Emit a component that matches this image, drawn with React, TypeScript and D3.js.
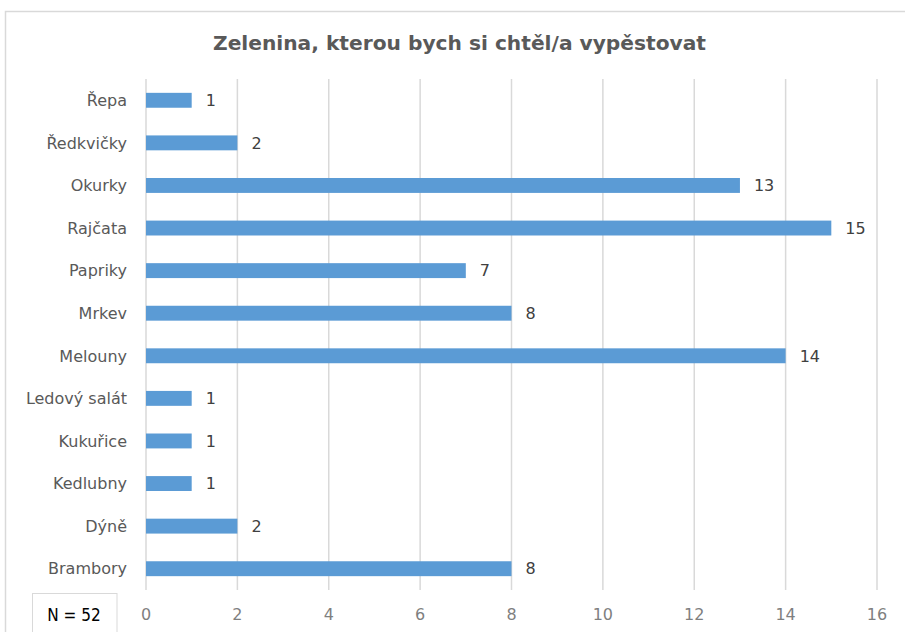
import React, { useEffect, useRef } from 'react';
import * as d3 from 'd3';

const categories = ['Řepa', 'Ředkvičky', 'Okurky', 'Rajčata', 'Papriky', 'Mrkev', 'Melouny', 'Ledový salát', 'Kukuřice', 'Kedlubny', 'Dýně', 'Brambory'];
const counts = [1, 2, 13, 15, 7, 8, 14, 1, 1, 1, 2, 8];
const xTicks = [0, 2, 4, 6, 8, 10, 12, 14, 16];
const title = 'Zelenina, kterou bych si chtěl/a vypěstovat';
const note = 'N = 52';

const W = 905;
const H = 632;
const FONT = '"DejaVu Sans", "Open Sans", sans-serif';

const App = () => {
  const svgRef = useRef<SVGSVGElement>(null);

  useEffect(() => {
    const svg = d3.select(svgRef.current);
    svg.selectAll('*').remove();

    const plot = { left: 146, right: 877, top: 79, bottom: 590 };

    const x = d3.scaleLinear().domain([0, 16]).range([plot.left, plot.right]);
    const y = d3.scaleBand<string>()
      .domain(categories)
      .range([plot.top, plot.bottom])
      .paddingInner(0.65)
      .paddingOuter(0.325);

    // chart frame
    svg.append('rect')
      .attr('x', 5.5).attr('y', 11.5)
      .attr('width', W + 10).attr('height', H + 10)
      .attr('fill', '#fff')
      .attr('stroke', '#d9d9d9')
      .attr('stroke-width', 1.5);

    // title
    svg.append('text')
      .attr('x', 459.5).attr('y', 50)
      .attr('text-anchor', 'middle')
      .attr('font-family', FONT)
      .attr('font-size', 20)
      .attr('font-weight', 'bold')
      .attr('fill', '#595959')
      .attr('textLength', 493)
      .attr('lengthAdjust', 'spacingAndGlyphs')
      .text(title);

    // gridlines
    svg.append('g')
      .selectAll('line')
      .data(xTicks)
      .join('line')
      .attr('x1', d => x(d)).attr('x2', d => x(d))
      .attr('y1', plot.top).attr('y2', plot.bottom)
      .attr('stroke', '#d9d9d9')
      .attr('stroke-width', 1.5);

    // x tick labels
    svg.append('g')
      .selectAll('text')
      .data(xTicks)
      .join('text')
      .attr('x', d => x(d))
      .attr('y', 620)
      .attr('text-anchor', 'middle')
      .attr('font-family', FONT)
      .attr('font-size', 16)
      .attr('fill', '#7f7f7f')
      .text(d => d);

    // category labels
    svg.append('g')
      .selectAll('text')
      .data(categories)
      .join('text')
      .attr('x', 127)
      .attr('y', d => (y(d) ?? 0) + y.bandwidth() / 2)
      .attr('dy', '0.36em')
      .attr('text-anchor', 'end')
      .attr('font-family', FONT)
      .attr('font-size', 16)
      .attr('fill', '#595959')
      .text(d => d);

    // bars
    svg.append('g')
      .selectAll('rect')
      .data(categories)
      .join('rect')
      .attr('x', x(0))
      .attr('y', d => y(d) ?? 0)
      .attr('width', (_, i) => x(counts[i]) - x(0))
      .attr('height', y.bandwidth())
      .attr('fill', '#5b9bd5');

    // value labels
    svg.append('g')
      .selectAll('text')
      .data(categories)
      .join('text')
      .attr('x', (_, i) => x(counts[i]) + 14)
      .attr('y', d => (y(d) ?? 0) + y.bandwidth() / 2)
      .attr('dy', '0.36em')
      .attr('font-family', FONT)
      .attr('font-size', 16)
      .attr('fill', '#404040')
      .text((_, i) => counts[i]);

    // N box
    svg.append('rect')
      .attr('x', 32.5).attr('y', 593.5)
      .attr('width', 84.5).attr('height', 50)
      .attr('fill', '#fff')
      .attr('stroke', '#d9d9d9')
      .attr('stroke-width', 1);

    svg.append('text')
      .attr('x', 74).attr('y', 621)
      .attr('text-anchor', 'middle')
      .attr('font-family', '"DejaVu Sans Condensed", "DejaVu Sans", sans-serif')
      .attr('font-size', 17)
      .attr('fill', '#000')
      .text(note);
  }, []);

  return (
    <svg
      ref={svgRef}
      width={W}
      height={H}
      style={{ position: 'absolute', left: 0, top: 0, display: 'block' }}
    />
  );
};

export default App;
